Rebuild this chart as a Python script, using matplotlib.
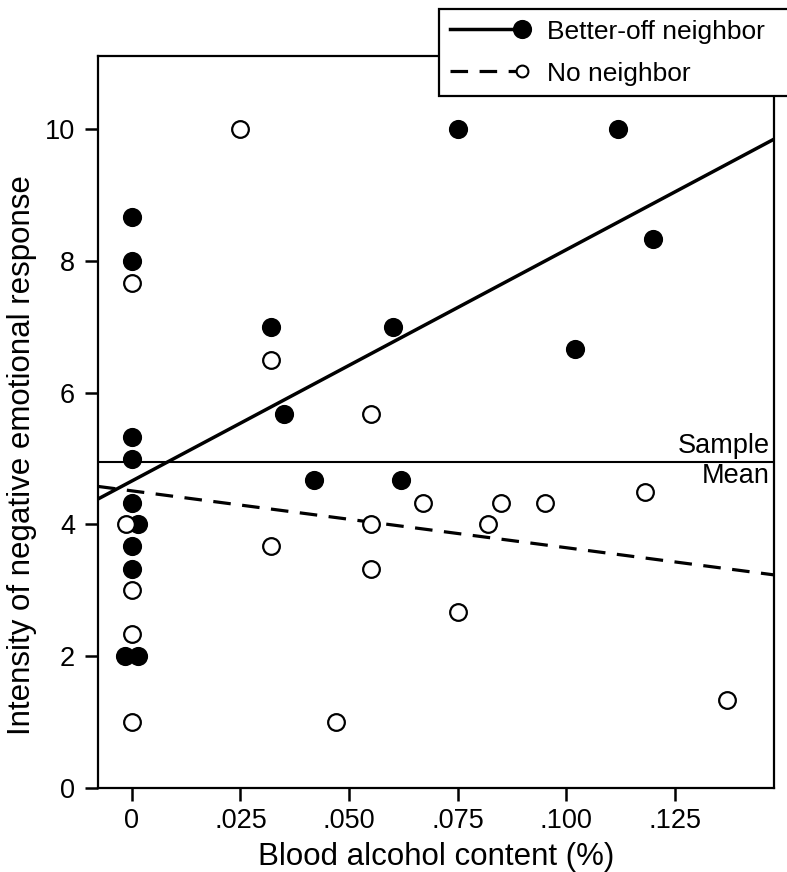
import numpy as np
import matplotlib
matplotlib.use('Agg')
import matplotlib.pyplot as plt
from matplotlib.lines import Line2D
from matplotlib.legend_handler import HandlerBase
import matplotlib.transforms as mtransforms

plt.rcParams['font.family'] = ['Liberation Sans', 'DejaVu Sans']

# better-off neighbor (filled circles)
better_bac = [0, 0, 0, 0, 0, 0.0014, 0, 0, -0.0015, 0.0015,
              0.075, 0.112, 0.120, 0.032, 0.060, 0.102, 0.035, 0.042, 0.062]
better_resp = [8.67, 8.0, 5.33, 5.0, 4.33, 4.0, 3.67, 3.33, 2.0, 2.0,
               10.0, 10.0, 8.33, 7.0, 7.0, 6.67, 5.67, 4.67, 4.67]

# no neighbor (open circles)
none_bac = [0, -0.0014, 0, 0, 0, 0.025, 0.032, 0.055, 0.067, 0.085,
            0.095, 0.055, 0.082, 0.118, 0.032, 0.055, 0.075, 0.047, 0.137]
none_resp = [7.67, 4.0, 3.0, 2.33, 1.0, 10.0, 6.5, 5.67, 4.33, 4.33,
             4.33, 4.0, 4.0, 4.5, 3.67, 3.33, 2.67, 1.0, 1.33]

# regression lines: (intercept, slope)
better_fit = (4.66, 35.1)
none_fit = (4.51, -8.63)
sample_mean = 4.95

xticks = [0, 0.025, 0.05, 0.075, 0.1, 0.125]
xticklabels = ['0', '.025', '.050', '.075', '.100', '.125']
yticks = [0, 2, 4, 6, 8, 10]

DASH = (0, (5.5, 3.6))

fig = plt.figure(figsize=(7.87, 8.72), dpi=100)
ax = fig.add_axes([98 / 787, 84 / 872, 676 / 787, 732 / 872])
xlim = (-0.0078, 0.1478)
ax.set_xlim(xlim)
ax.set_ylim(0, 11.11)

xs = np.array(xlim)
ax.plot(xs, better_fit[0] + better_fit[1] * xs, color='black', lw=2.5, zorder=2)
ax.plot(xs, none_fit[0] + none_fit[1] * xs, color='black', lw=2.3, ls=DASH, zorder=2)
ax.axhline(sample_mean, color='black', lw=1.5, zorder=2)

ax.plot(better_bac, better_resp, 'o', ms=12.3, mfc='black', mec='black', mew=1.5, zorder=3)
ax.plot(none_bac, none_resp, 'o', ms=12, mfc='white', mec='black', mew=1.6, zorder=4)

trans = mtransforms.blended_transform_factory(ax.transAxes, ax.transData)
ax.annotate('Sample', (0.994, sample_mean), xycoords=trans, xytext=(0, 2),
            textcoords='offset points', ha='right', va='bottom', fontsize=19.5)
ax.annotate('Mean', (0.994, sample_mean), xycoords=trans, xytext=(0, -1),
            textcoords='offset points', ha='right', va='top', fontsize=19.5)

ax.set_xticks(xticks)
ax.set_xticklabels(xticklabels)
ax.set_yticks(yticks)
ax.tick_params(direction='out', length=9.5, width=1.8, labelsize=19.5, pad=5)
ax.tick_params(axis='y', pad=7)
for s in ax.spines.values():
    s.set_linewidth(1.6)

ax.set_xlabel('Blood alcohol content (%)', fontsize=22.5, labelpad=6)
ax.set_ylabel('Intensity of negative emotional response', fontsize=22.5)
ax.yaxis.set_label_coords(-0.09, 0.455)


class LineThenMarker(HandlerBase):
    def __init__(self, msize):
        super().__init__()
        self.msize = msize

    def create_artists(self, legend, orig_handle, xdescent, ydescent,
                       width, height, fontsize, trans):
        y = height / 2 - ydescent
        x0, x1 = -xdescent, width - xdescent
        line = Line2D([x0, x1], [y, y])
        line.update_from(orig_handle)
        line.set_marker('None')
        mk = Line2D([x1], [y], ls='None', marker='o', markersize=self.msize,
                    mfc=orig_handle.get_markerfacecolor(), mec='black',
                    mew=orig_handle.get_markeredgewidth())
        line.set_transform(trans)
        mk.set_transform(trans)
        return [line, mk]


h1 = Line2D([], [], color='black', lw=2.5, marker='o', mfc='black', mew=1.5)
h2 = Line2D([], [], color='black', lw=2.3, ls=DASH, marker='o', mfc='white', mew=1.5)
leg = fig.legend([h1, h2], ['Better-off neighbor', 'No neighbor'],
                 loc='upper left', bbox_to_anchor=(439 / 787, 0.5, 0.5, 0.5 - 9 / 872),
                 mode='expand', borderaxespad=0, fontsize=19,
                 handler_map={h1: LineThenMarker(12.3), h2: LineThenMarker(8.5)},
                 handlelength=2.73, handletextpad=0.95, labelspacing=0.68,
                 borderpad=0.4, fancybox=False, framealpha=1, edgecolor='black')
leg.get_frame().set_linewidth(1.6)

fig.savefig('out.png', dpi=100)
